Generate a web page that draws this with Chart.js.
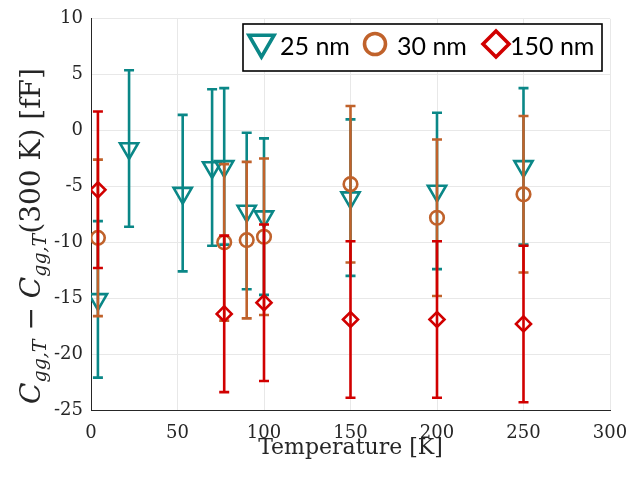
<!DOCTYPE html>
<html>
<head>
<meta charset="utf-8">
<script src="https://cdn.jsdelivr.net/npm/chart.js@4"></script>
<style>
  html, body { margin: 0; padding: 0; background: #fff; }
</style>
</head>
<body>
<canvas id="chart" width="644" height="480"></canvas>
<script>
// Data
const temps25 = [4, 22, 53, 70, 77, 90, 100, 150, 200, 250];
const cgg25 = [-15.1, -1.6, -5.6, -3.3, -3.2, -7.2, -7.7, -6.0, -5.4, -3.2];
const err25 = [7, 7, 7, 7, 7, 7, 7, 7, 7, 7];

const temps30 = [4, 77, 90, 100, 150, 200, 250];
const cgg30 = [-9.6, -10.0, -9.8, -9.5, -4.8, -7.8, -5.7];
const err30 = [7, 7, 7, 7, 7, 7, 7];

const temps150 = [4, 77, 100, 150, 200, 250];
const cgg150 = [-5.3, -16.4, -15.4, -16.9, -16.9, -17.3];
const err150 = [7, 7, 7, 7, 7, 7];

const seriesLabels = ['25 nm', '30 nm', '150 nm'];
const xTicks = [0, 50, 100, 150, 200, 250, 300];
const yTicks = [-25, -20, -15, -10, -5, 0, 5, 10];

const teal = '#0a8787';
const orange = '#c0622b';
const red = '#d10000';
const axisColor = '#262626';
const serif = '"DejaVu Serif", serif';

function toPoints(xs, ys) {
  return xs.map((t, i) => ({ x: t, y: ys[i] }));
}

// error bars drawn under each dataset's markers
const errorBars = {
  id: 'errorBars',
  beforeDatasetDraw(chart, args) {
    const ds = chart.data.datasets[args.index];
    const xs = chart.scales.x, ys = chart.scales.y;
    const ctx = chart.ctx;
    ctx.save();
    ctx.strokeStyle = ds.borderColor;
    ctx.lineWidth = 2.6;
    ds.data.forEach((p, i) => {
      const e = ds.errors[i];
      const px = xs.getPixelForValue(p.x);
      const top = ys.getPixelForValue(p.y + e);
      const bot = ys.getPixelForValue(p.y - e);
      ctx.beginPath();
      ctx.moveTo(px, top); ctx.lineTo(px, bot);
      ctx.moveTo(px - 5, top); ctx.lineTo(px + 5, top);
      ctx.moveTo(px - 5, bot); ctx.lineTo(px + 5, bot);
      ctx.stroke();
    });
    ctx.restore();
  }
};

// boxed legend inside the plot, top right
const boxLegend = {
  id: 'boxLegend',
  afterDraw(chart) {
    const ctx = chart.ctx;
    const box = { x: 243, y: 24, w: 359, h: 47 };
    ctx.save();
    ctx.fillStyle = '#fff';
    ctx.fillRect(box.x, box.y, box.w, box.h);
    ctx.strokeStyle = '#000';
    ctx.lineWidth = 1.6;
    ctx.strokeRect(box.x, box.y, box.w, box.h);

    const items = [
      { ds: 0, mx: 261.5, my: 42.5, r: 14.5, textX: 280 },
      { ds: 1, mx: 375, my: 44, r: 10.5, textX: 397 },
      { ds: 2, mx: 496, my: 44, r: 13, textX: 510 }
    ];
    const byLabel = {};
    chart.data.datasets.forEach(d => { byLabel[d.label] = d; });
    items.forEach((it, k) => {
      const d = byLabel[seriesLabels[k]];
      ctx.strokeStyle = d.borderColor;
      ctx.fillStyle = 'rgba(0,0,0,0)';
      ctx.lineWidth = 3.6;
      Chart.helpers.drawPoint(ctx, {
        pointStyle: d.pointStyle, rotation: d.rotation || 0,
        radius: it.r, borderWidth: 3.6
      }, it.mx, it.my);
      ctx.fillStyle = '#000';
      ctx.font = '25px Lato, "Open Sans", sans-serif';
      ctx.textBaseline = 'alphabetic';
      ctx.textAlign = 'left';
      ctx.fillText(d.label, it.textX, 55);
    });
    ctx.restore();
  }
};

// y title with subscripts, drawn rotated
const yTitle = {
  id: 'yTitle',
  afterDraw(chart) {
    const ctx = chart.ctx;
    const parts = [
      { t: 'C', f: 'italic 28px ' + serif, dy: 0 },
      { t: 'gg,T', f: 'italic 19px ' + serif, dy: 6 },
      { t: ' \u2212 ', f: '28px ' + serif, dy: 0 },
      { t: 'C', f: 'italic 28px ' + serif, dy: 0 },
      { t: 'gg,T', f: 'italic 19px ' + serif, dy: 6 },
      { t: '(300 K) [fF]', f: '28px ' + serif, dy: 0 }
    ];
    ctx.save();
    let total = 0;
    parts.forEach(p => { ctx.font = p.f; p.w = ctx.measureText(p.t).width; total += p.w; });
    ctx.translate(40, 236);
    ctx.rotate(-Math.PI / 2);
    ctx.fillStyle = axisColor;
    ctx.textBaseline = 'alphabetic';
    ctx.textAlign = 'left';
    let x = -total / 2;
    parts.forEach(p => {
      ctx.font = p.f;
      ctx.fillText(p.t, x, p.dy);
      x += p.w;
    });
    ctx.restore();
  }
};

const ctx = document.getElementById('chart').getContext('2d');

new Chart(ctx, {
  type: 'scatter',
  data: {
    datasets: [
      {
        label: seriesLabels[0],
        data: toPoints(temps25, cgg25),
        errors: err25,
        pointStyle: 'triangle',
        rotation: 180,
        pointRadius: 10.5,
        pointBorderWidth: 2.6,
        borderColor: teal,
        backgroundColor: 'rgba(0,0,0,0)',
        order: 2
      },
      {
        label: seriesLabels[1],
        data: toPoints(temps30, cgg30),
        errors: err30,
        pointStyle: 'circle',
        pointRadius: 6.8,
        pointBorderWidth: 2.6,
        borderColor: orange,
        backgroundColor: 'rgba(0,0,0,0)',
        order: 1
      },
      {
        label: seriesLabels[2],
        data: toPoints(temps150, cgg150),
        errors: err150,
        pointStyle: 'rectRot',
        pointRadius: 7.5,
        pointBorderWidth: 2.6,
        borderColor: red,
        backgroundColor: 'rgba(0,0,0,0)',
        order: 0
      }
    ]
  },
  options: {
    responsive: false,
    animation: false,
    layout: { padding: { top: 13, right: 34, left: 0, bottom: 0 } },
    plugins: {
      legend: { display: false },
      tooltip: { enabled: false }
    },
    scales: {
      x: {
        type: 'linear',
        min: 0,
        max: 300,
        afterFit: s => { s.height = 70; },
        afterBuildTicks: s => { s.ticks = xTicks.map(v => ({ value: v })); },
        grid: { color: '#e8e8e8', drawTicks: false },
        border: { color: axisColor, width: 1 },
        ticks: { color: axisColor, padding: 13, font: { family: serif, size: 18 } },
        title: {
          display: true,
          text: 'Temperature [K]',
          color: axisColor,
          font: { family: serif, size: 22 },
          padding: { top: 0, bottom: 19 }
        }
      },
      y: {
        type: 'linear',
        min: -25,
        max: 10,
        afterFit: s => { s.width = 91; },
        afterBuildTicks: s => { s.ticks = yTicks.map(v => ({ value: v })); },
        grid: { color: '#e8e8e8', drawTicks: false },
        border: { color: axisColor, width: 1 },
        ticks: { color: axisColor, padding: 8, font: { family: serif, size: 18 } }
      }
    }
  },
  plugins: [errorBars, yTitle, boxLegend]
});
</script>
</body>
</html>
